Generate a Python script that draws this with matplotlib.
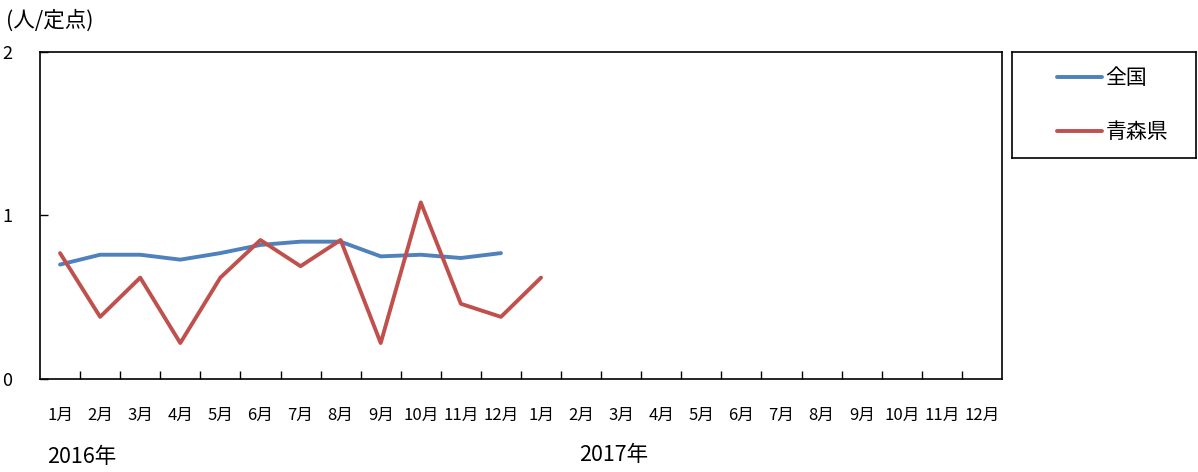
import numpy as np
import matplotlib
matplotlib.use("Agg")
from matplotlib import pyplot as plt

plt.rcParams['font.family'] = ['Noto Sans CJK JP', 'DejaVu Sans']

months = ["%d月" % m for m in range(1, 13)] * 2
years = ["2016年", "2017年"]
series_names = ["全国", "青森県"]
zenkoku = [0.70, 0.76, 0.76, 0.73, 0.77, 0.82, 0.84, 0.84, 0.75, 0.76, 0.74, 0.77]
aomori = [0.77, 0.38, 0.62, 0.22, 0.62, 0.85, 0.69, 0.85, 0.22, 1.08, 0.46, 0.38, 0.62]
colors = ["#4F81BD", "#C0504D"]

W, H = 1198, 472
fig = plt.figure(figsize=(W / 100, H / 100), dpi=100)
ax = fig.add_axes([40 / W, 1 - 379 / H, (1002 - 40) / W, (379 - 52) / H])

x1 = np.arange(len(zenkoku))
x2 = np.arange(len(aomori))
ax.plot(x1, zenkoku, color=colors[0], lw=2.8, label=series_names[0], solid_capstyle='round')
ax.plot(x2, aomori, color=colors[1], lw=2.8, label=series_names[1], solid_capstyle='round')

ax.set_xlim(-0.5, len(months) - 0.5)
ax.set_ylim(0, 2)
ax.set_yticks([0, 1, 2])
ax.set_yticklabels(["0", "1", "2"], fontsize=13)
ax.set_xticks(np.arange(len(months)))
ax.set_xticklabels(months, fontsize=12)
ax.set_xticks(np.arange(0.5, len(months) - 0.5, 1), minor=True)
ax.tick_params(axis='x', which='major', length=0, pad=20)
ax.tick_params(axis='x', which='minor', direction='in', length=6, width=1)
ax.tick_params(axis='y', direction='in', length=6, width=1, pad=20)
for s in ax.spines.values():
    s.set_linewidth(1.2)

fig.text(6 / W, 1 - 21 / H, "(人/定点)", fontsize=15.5, va='center', ha='left')
fig.text(47 / W, 1 - 457 / H, years[0], fontsize=15.5, va='center', ha='left')
fig.text(579 / W, 1 - 455 / H, years[1], fontsize=15.5, va='center', ha='left')

# legend frame as its own box
lax = fig.add_axes([1012 / W, 1 - 158 / H, (1196 - 1012) / W, (158 - 52) / H])
lax.set_xticks([])
lax.set_yticks([])
for s in lax.spines.values():
    s.set_linewidth(1.2)
h, l = ax.get_legend_handles_labels()
lax.legend(h, l, loc='center left', bbox_to_anchor=(0.14, 0.5), frameon=False,
           fontsize=15, handlelength=2.2, handletextpad=0.15, labelspacing=1.55)

fig.savefig("out.png", dpi=100)
